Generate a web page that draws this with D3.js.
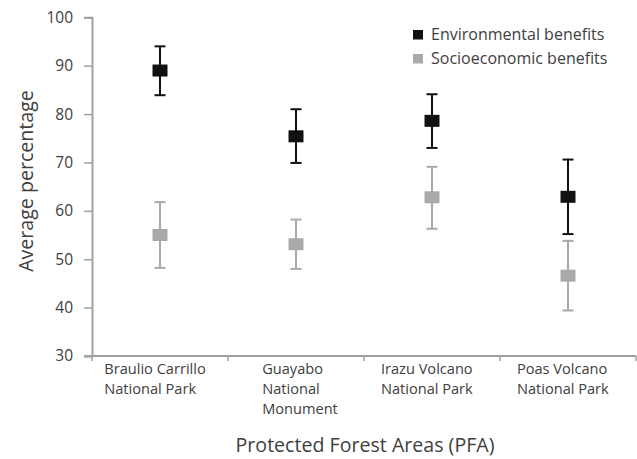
<!DOCTYPE html>
<html><head><meta charset="utf-8">
<script src="https://cdn.jsdelivr.net/npm/d3@7"></script>
<style>body{margin:0;background:#fff}svg{display:block}text{font-family:"Open Sans",sans-serif}</style>
</head><body><svg id="c" width="637" height="459"></svg>
<script>
const categories = [["Braulio Carrillo","National Park"],["Guayabo","National","Monument"],["Irazu Volcano","National Park"],["Poas Volcano","National Park"]];
const seriesNames = ["Environmental benefits","Socioeconomic benefits"];
const envMean = [89, 75.4, 78.6, 62.9];
const envLow  = [83.9, 69.9, 73.0, 55.2];
const envHigh = [94, 81, 84.1, 70.6];
const socMean = [55, 53.1, 62.8, 46.6];
const socLow  = [48.2, 48.0, 56.3, 39.4];
const socHigh = [61.8, 58.2, 69.1, 53.8];
const yTicks = [30,40,50,60,70,80,90,100];
const colors = ["#111111","#a9a9a9"];

const svg = d3.select("#c");
const L=92, R=636, T=17.3, B=356;
const x = d3.scaleBand().domain(d3.range(categories.length)).range([L,R]);
const y = d3.scaleLinear().domain([30,100]).range([B,T]);
const axisCol="#a0a0a0", textCol="#404040";

// y axis
const ya = svg.append("g").attr("transform",`translate(${L},0)`)
  .call(d3.axisLeft(y).tickValues(yTicks).tickSize(8).tickPadding(11));
ya.select(".domain").attr("stroke",axisCol).attr("stroke-width",2);
ya.selectAll(".tick line").attr("stroke",axisCol).attr("stroke-width",1.5);
ya.selectAll(".tick text").attr("fill",textCol).style("font-size","15.5px").style("font-family","Open Sans");

// x axis
const xa = svg.append("g").attr("transform",`translate(0,${B})`);
xa.append("line").attr("x1",L-8).attr("x2",R).attr("stroke",axisCol).attr("stroke-width",2);
const bounds = d3.range(categories.length+1).map(i=> i<categories.length ? x(i) : R);
xa.selectAll("line.t").data(bounds).join("line").attr("class","t")
  .attr("x1",d=>d).attr("x2",d=>d).attr("y1",0).attr("y2",5).attr("stroke",axisCol).attr("stroke-width",1.5);

categories.forEach((lines,i)=>{
  const g = svg.append("g");
  const t = g.append("text").attr("fill",textCol).style("font-size","14.6px");
  lines.forEach((ln,j)=> t.append("tspan").attr("x",0).attr("y",B+18+j*20).text(ln));
  const w = t.node().getBBox().width;
  const cx = x(i)+x.bandwidth()/2;
  const off = i===1 ? 4 : -5;
  g.attr("transform",`translate(${cx - w/2 + off},0)`);
});

// titles
svg.append("text").attr("x",365).attr("y",452).attr("text-anchor","middle").attr("fill",textCol)
  .style("font-size","19.6px").text("Protected Forest Areas (PFA)");
svg.append("text").attr("transform",`translate(33,181) rotate(-90)`).attr("text-anchor","middle").attr("fill",textCol)
  .style("font-size","19.6px").text("Average percentage");

// series
const series = [
  {mean:envMean, low:envLow, high:envHigh, color:colors[0]},
  {mean:socMean, low:socLow, high:socHigh, color:colors[1]}
];
series.forEach(s=>{
  const g = svg.append("g");
  s.mean.forEach((m,i)=>{
    const cx = x(i)+x.bandwidth()/2;
    g.append("line").attr("x1",cx).attr("x2",cx).attr("y1",y(s.high[i])).attr("y2",y(s.low[i])).attr("stroke",s.color).attr("stroke-width",2);
    [s.high[i], s.low[i]].forEach(v=>
      g.append("line").attr("x1",cx-5.5).attr("x2",cx+5.5).attr("y1",y(v)).attr("y2",y(v)).attr("stroke",s.color).attr("stroke-width",2));
    g.append("rect").attr("x",cx-7.5).attr("y",y(m)-6).attr("width",15).attr("height",12).attr("fill",s.color);
  });
});

// legend
seriesNames.forEach((n,i)=>{
  const yy = 34.5 + i*24;
  svg.append("rect").attr("x",413).attr("y",yy-4.5).attr("width",10).attr("height",9.5).attr("fill",colors[i]);
  svg.append("text").attr("x",431).attr("y",yy+5).attr("fill",textCol).style("font-size","16px").text(n);
});
</script></body></html>
